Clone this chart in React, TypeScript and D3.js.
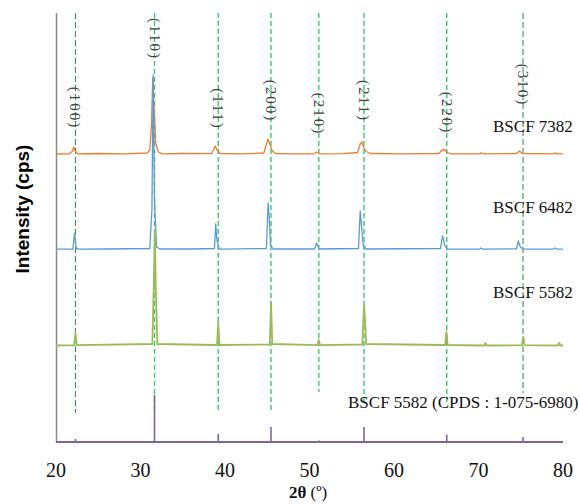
import React from 'react';
import * as d3 from 'd3';

// 2θ range and series (intensity in cps above each pattern's own baseline)
const xTicks = [20, 30, 40, 50, 60, 70, 80];

const bscf7382: [number, number][] = [
  [20.0, 10], [21.6, 12], [21.95, 40], [22.1, 80], [22.3, 35], [22.6, 12], [25, 15], [28, 12],
  [30.8, 20], [31.1, 50], [31.3, 300], [31.45, 770], [31.6, 500], [31.8, 120], [32.1, 30], [32.6, 12],
  [35, 15], [38.4, 14], [38.7, 60], [38.85, 90], [39.05, 50], [39.4, 15], [42, 12],
  [44.6, 20], [44.9, 110], [45.1, 160], [45.3, 110], [45.6, 40], [46.0, 15], [48, 12],
  [50.5, 12], [50.85, 30], [51.2, 12], [54, 14], [55.7, 25], [56.0, 110], [56.2, 130], [56.4, 80],
  [56.7, 35], [57.2, 15], [61, 12], [65.3, 15], [65.7, 50], [65.95, 55], [66.3, 25], [66.8, 12],
  [70.0, 12], [70.3, 22], [70.6, 12], [74.5, 14], [74.85, 40], [75.2, 15], [78.8, 12], [79.05, 20],
  [79.4, 12], [80, 12],
];

const bscf6482: [number, number][] = [
  [20, 8], [22.0, 10], [22.2, 170], [22.4, 15], [22.7, 8], [26, 10], [31.1, 15], [31.35, 400],
  [31.5, 1750], [31.65, 500], [31.9, 30], [32.3, 10], [36, 10], [38.75, 15], [38.9, 260],
  [39.05, 100], [39.3, 15], [39.6, 8], [44.9, 15], [45.1, 470], [45.25, 300], [45.4, 50], [45.7, 10],
  [50.6, 10], [50.85, 70], [51.1, 10], [55.8, 15], [56.0, 390], [56.15, 250], [56.35, 50], [56.7, 10],
  [65.5, 15], [65.75, 140], [66.0, 50], [66.3, 10], [70.1, 8], [70.3, 20], [70.5, 8], [74.5, 12],
  [74.7, 90], [74.95, 30], [75.3, 8], [78.85, 8], [79.05, 20], [79.3, 8], [80, 8],
];

const bscf5582: [number, number][] = [
  [20, 5], [22.15, 8], [22.3, 130], [22.45, 8], [31.4, 20], [31.6, 700], [31.7, 1160], [31.8, 600],
  [32.0, 20], [39.05, 10], [39.2, 230], [39.35, 10], [45.3, 15], [45.45, 430], [45.6, 20],
  [50.95, 8], [51.1, 60], [51.25, 8], [56.25, 15], [56.45, 410], [56.55, 300], [56.7, 20],
  [66.05, 10], [66.2, 140], [66.35, 10], [70.7, 5], [70.8, 30], [70.95, 5], [75.15, 8], [75.3, 90],
  [75.45, 8], [79.4, 5], [79.55, 30], [79.7, 5], [80, 5],
];

// reference card peaks
const refPos = [22.3, 31.66, 39.2, 45.44, 51.1, 56.45, 66.24, 70.8, 75.27, 79.8];
const refInt = [30, 470, 80, 150, 15, 150, 75, 8, 50, 8];

// Miller indices
const hklPos = [22.3, 31.66, 39.2, 45.44, 51.1, 56.45, 66.24, 75.27];
const hklLabels = ['(100)', '(110)', '(111)', '(200)', '(210)', '(211)', '(220)', '(310)'];
const hklLineEnd = [290, 290, 290, 300, 500, 370, 370, 490]; // cps level where the guide stops
const hklLabelY = [108, 39, 109, 101, 114, 101, 113, 85];

const seriesNames = ['BSCF 7382', 'BSCF 6482', 'BSCF 5582'];
const seriesOffsets = [2870, 1920, 960];

export default function App() {
  const width = 579;
  const height = 504;
  const x = d3.scaleLinear().domain([20, 80]).range([56, 563]);
  const y = d3.scaleLinear().domain([0, 4290]).range([442, 13]);

  const mk = (off: number) =>
    d3.line<[number, number]>()
      .x((d) => x(d[0]))
      .y((d) => y(d[1] + off));

  const series = [
    { data: bscf7382, color: '#ed7d31', w: 1.3 },
    { data: bscf6482, color: '#5b9bd5', w: 1.3 },
    { data: bscf5582, color: '#9bbb59', w: 1.8 },
  ];
  const labelY = [132, 213, 298];

  return (
    <svg width={width} height={height} style={{ position: 'absolute', left: 0, top: 0, background: '#fff' }}>
      {/* guide lines */}
      {hklPos.map((p, i) => {
        const edge = i === 0 || i === hklPos.length - 1;
        return (
          <line key={'g' + i} x1={x(p)} x2={x(p)} y1={13} y2={y(hklLineEnd[i])}
            stroke={edge ? '#2a8a50' : '#33cc70'} strokeWidth={edge ? 1 : 1.4}
            strokeDasharray={edge ? '6,3' : '5,3'} />
        );
      })}
      {/* y axis */}
      <line x1={56.5} x2={56.5} y1={13} y2={442} stroke="#8a8a8a" strokeWidth={1.5} />
      {/* patterns */}
      {series.map((s, i) => (
        <path key={'s' + i} d={mk(seriesOffsets[i])(s.data) || ''} fill="none"
          stroke={s.color} strokeWidth={s.w} strokeLinejoin="round" />
      ))}
      {/* reference sticks */}
      <line x1={x(20)} x2={x(80)} y1={y(0)} y2={y(0)} stroke="#8064a2" strokeWidth={2} />
      {refPos.map((p, i) => (
        <line key={'r' + i} x1={x(p)} x2={x(p)} y1={y(0)} y2={y(refInt[i])} stroke="#8064a2" strokeWidth={1.6} />
      ))}
      {/* hkl labels */}
      {hklPos.map((p, i) => (
        <text key={'h' + i} transform={`translate(${x(p) - 5},${hklLabelY[i]}) rotate(90)`}
          textAnchor="middle" fontFamily="Liberation Serif" fontSize={15} letterSpacing={2} fill="#404040">
          {hklLabels[i]}
        </text>
      ))}
      {/* series names */}
      {seriesNames.map((n, i) => (
        <text key={'n' + i} x={493} y={labelY[i]} fontFamily="Liberation Serif" fontSize={17} fill="#111">{n}</text>
      ))}
      <text x={348} y={408} fontFamily="Liberation Serif" fontSize={17} fill="#111">BSCF 5582 (CPDS : 1-075-6980)</text>
      {/* x tick labels */}
      {xTicks.map((t) => (
        <text key={'t' + t} x={x(t)} y={477} textAnchor="middle" fontFamily="Liberation Serif" fontSize={20} fill="#111">{t}</text>
      ))}
      <text x={308} y={498} textAnchor="middle" fontFamily="Liberation Serif" fontSize={17} fill="#111">
        <tspan fontWeight="bold">2θ</tspan> (º)
      </text>
      <text transform="translate(29,209) rotate(-90)" textAnchor="middle" fontFamily="Liberation Sans"
        fontWeight="bold" fontSize={19} fill="#000">Intensity (cps)</text>
    </svg>
  );
}
